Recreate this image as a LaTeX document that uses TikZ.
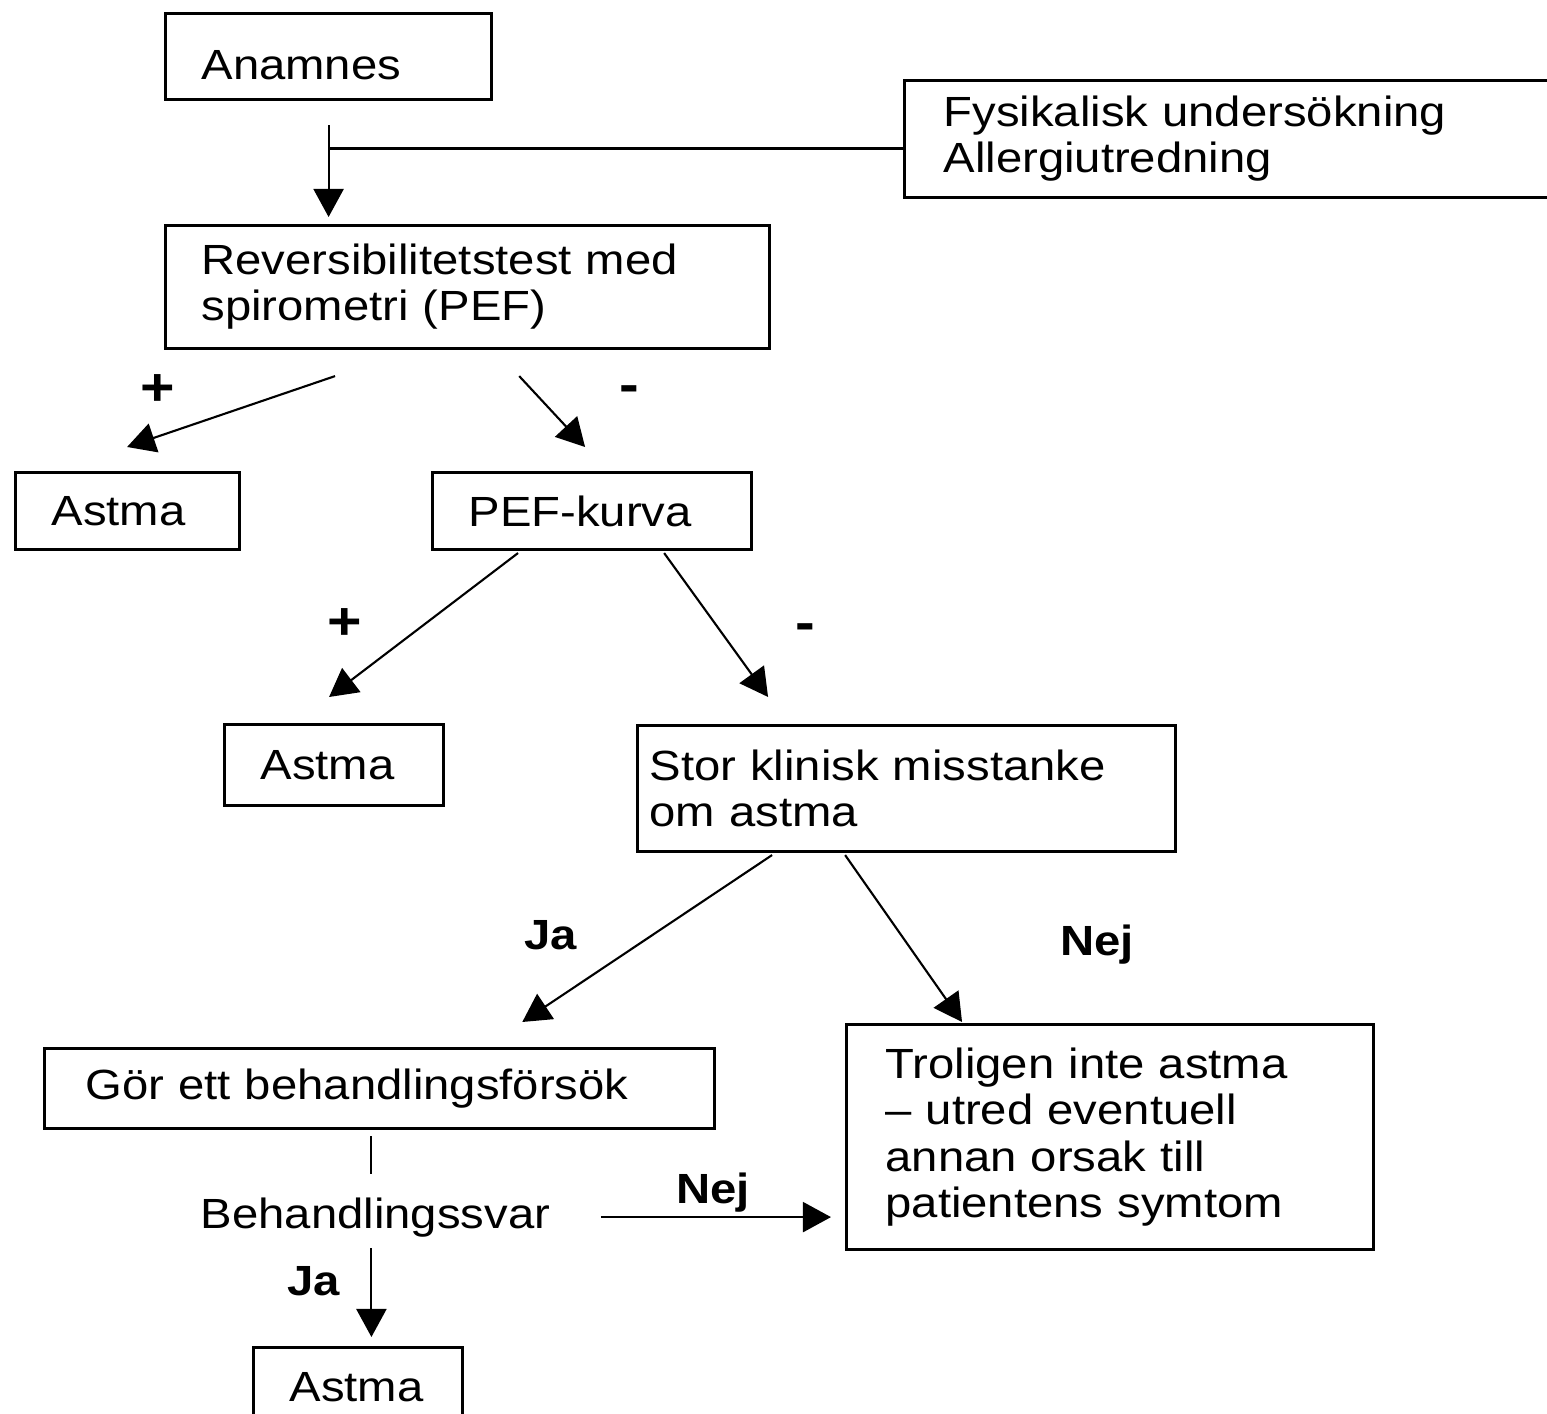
\documentclass[tikz,border=0pt]{standalone}
\usepackage{fontspec}
\setmainfont[FakeStretch=1.12]{Liberation Sans}
\usepackage{tikz}
\usetikzlibrary{arrows.meta, calc}
\tikzstyle{box} = [rectangle, draw, line width=0.85pt, anchor=north west, align=left, inner ysep=0pt, font=\fontsize{12}{13.1}\selectfont]
\tikzstyle{arrow} = [line width=0.6pt, -{Triangle[length=0.28cm, width=0.3cm]}]
\tikzstyle{line} = [line width=0.6pt]
\tikzstyle{sign} = [inner sep=0pt, font=\fontsize{12}{13.1}\selectfont\bfseries]
\tikzstyle{pm} = [inner sep=0pt, font=\fontsize{15}{15}\selectfont\bfseries]

\begin{document}
\begin{tikzpicture}[x=0.01cm, y=-0.01cm]
  \useasboundingbox (0,0) rectangle (1547,1414);

  \node (anamnes) [box, inner xsep=0.36cm, text width=2.54cm, minimum height=0.86cm, text height=0.46cm] at (164,12) {Anamnes};
  \node (fysik) [box, inner xsep=0.39cm, text width=6.0cm, minimum height=1.17cm] at (903,79) {Fysikalisk undersökning\\Allergiutredning};
  \node (revers) [box, inner xsep=0.36cm, text width=5.32cm, minimum height=1.23cm] at (164,224) {Reversibilitetstest med\\spirometri (PEF)};
  \node (astmaA) [box, inner xsep=0.36cm, text width=1.52cm, minimum height=0.77cm] at (14,471) {Astma};
  \node (pef) [box, inner xsep=0.36cm, text width=2.47cm, minimum height=0.77cm] at (431,471) {PEF-kurva};
  \node (astmaB) [box, inner xsep=0.36cm, text width=1.47cm, minimum height=0.81cm] at (223,723) {Astma};
  \node (stor) [box, inner xsep=0.12cm, text width=5.14cm, minimum height=1.26cm] at (636,724) {Stor klinisk misstanke\\om astma};
  \node (gor) [box, inner xsep=0.41cm, text width=5.88cm, minimum height=0.80cm] at (43,1047) {Gör ett behandlingsförsök};
  \node (trol) [box, inner xsep=0.39cm, text width=4.49cm, minimum height=2.25cm] at (845,1023) {Troligen inte astma\\-- utred eventuell\\annan orsak till\\patientens symtom};
  \node (astmaC) [box, inner xsep=0.36cm, text width=1.37cm, minimum height=0.80cm] at (252,1346) {Astma};
  \node (svar) [anchor=base west, inner sep=0pt, font=\fontsize{12}{13.1}\selectfont] at (200,1228) {Behandlingssvar};

  \node (plusA) [pm] at (158,390) {+};
  \node (minusA) [pm] at (629,394) {-};
  \node (plusB) [pm] at (345,624) {+};
  \node (minusB) [pm] at (805,632) {-};
  \node (jaA) [sign, anchor=base] at (551,949) {Ja};
  \node (nejA) [sign, anchor=base] at (1097,955) {Nej};
  \node (nejB) [sign, anchor=base] at (713,1203) {Nej};
  \node (jaB) [sign, anchor=base] at (314,1295) {Ja};

  \coordinate (joint) at ($(anamnes.south |- fysik.west)+(0,9.5)$);
  \draw [arrow, shorten <=0.24cm, shorten >=0.07cm] (anamnes.south) -- (anamnes.south |- revers.north);
  \draw [line] (joint) -- (joint -| fysik.west);

  \draw [arrow] ([xshift=1.71cm, yshift=-0.26cm]revers.south west) -- ([xshift=1.13cm, yshift=0.24cm]astmaA.north west);
  \draw [arrow] ([xshift=3.55cm, yshift=-0.26cm]revers.south west) -- ([xshift=1.54cm, yshift=0.24cm]pef.north west);
  \draw [arrow] ([xshift=0.87cm, yshift=-0.02cm]pef.south west) -- ([xshift=1.06cm, yshift=0.26cm]astmaB.north west);
  \draw [arrow] ([xshift=2.33cm, yshift=-0.02cm]pef.south west) -- ([xshift=1.32cm, yshift=0.27cm]stor.north west);
  \draw [arrow] ([xshift=1.36cm, yshift=-0.02cm]stor.south west) -- ([xshift=4.79cm, yshift=0.25cm]gor.north west);
  \draw [arrow] ([xshift=2.09cm, yshift=-0.02cm]stor.south west) -- ([xshift=1.17cm, yshift=0.01cm]trol.north west);

  \draw [line, shorten <=0.06cm, shorten >=0.23cm] ([xshift=-0.04cm]svar.north |- gor.south) -- ([xshift=-0.04cm]svar.north);
  \draw [arrow, shorten <=0.5cm, shorten >=0.14cm] (svar.east) -- (svar.east -| trol.west);
  \draw [arrow, shorten <=0.11cm, shorten >=0.09cm] ([xshift=-0.04cm]svar.south) -- ([xshift=-0.04cm]svar.south |- astmaC.north);
\end{tikzpicture}
\end{document}
